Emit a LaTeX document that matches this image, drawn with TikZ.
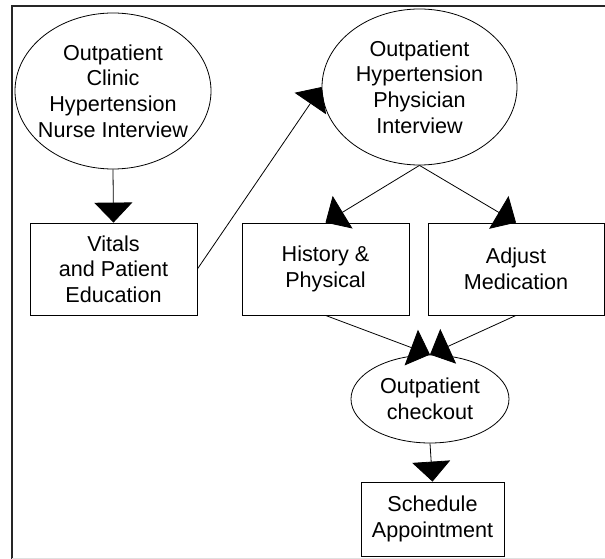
\documentclass[tikz,border=0pt]{standalone}
\usepackage{fontspec}
\setmainfont{Liberation Sans}
\usetikzlibrary{shapes.geometric,arrows.meta}

\begin{document}
\begin{tikzpicture}[x=1pt,y=-1pt,
  every node/.style={font=\fontsize{21.6}{25.6}\selectfont},
  oval/.style={draw,ellipse,inner xsep=-8pt,inner ysep=0pt,align=center,line width=0.8pt},
  task/.style={draw,rectangle,inner sep=0pt,align=center,line width=0.8pt},
  flow/.style={line width=0.8pt,-{Triangle[length=20pt,width=38pt]}}]
\useasboundingbox (0,0) rectangle (605,559);
\draw[line width=1.6pt,black!85] (12,559) -- (12,6) -- (605,6);
\draw[black!12] (12,558) -- (605,558);
\node[oval,minimum width=196pt,minimum height=156pt] (nurse) at (113,91) {Outpatient\\Clinic\\Hypertension\\Nurse Interview};
\node[oval,minimum width=195pt,minimum height=156pt] (phys) at (419.5,87) {Outpatient\\Hypertension\\Physician\\Interview};
\node[task,minimum width=167pt,minimum height=92pt] (vitals) at (113.5,269) {Vitals\\and Patient\\Education};
\node[task,minimum width=167pt,minimum height=92pt] (hist) at (325.5,269) {History \&\\Physical};
\node[task,minimum width=176pt,minimum height=92pt] (adjust) at (516,269) {Adjust\\Medication};
\node[oval,minimum width=158pt,minimum height=88pt] (checkout) at (430,399) {Outpatient\\checkout};
\node[task,minimum width=143pt,minimum height=74pt] (sched) at (432.5,519) {Schedule\\Appointment};
\draw[flow] (nurse.south) -- (vitals.north);
\draw[flow] (vitals.east) -- (phys.west);
\draw[flow] (phys.south) -- (hist.north);
\draw[flow] (phys.south) -- (adjust.north);
\draw[flow] (hist.south) -- (checkout.north);
\draw[flow] (adjust.south) -- (checkout.north);
\draw[flow] (checkout.south) -- (sched.north);
\end{tikzpicture}
\end{document}
